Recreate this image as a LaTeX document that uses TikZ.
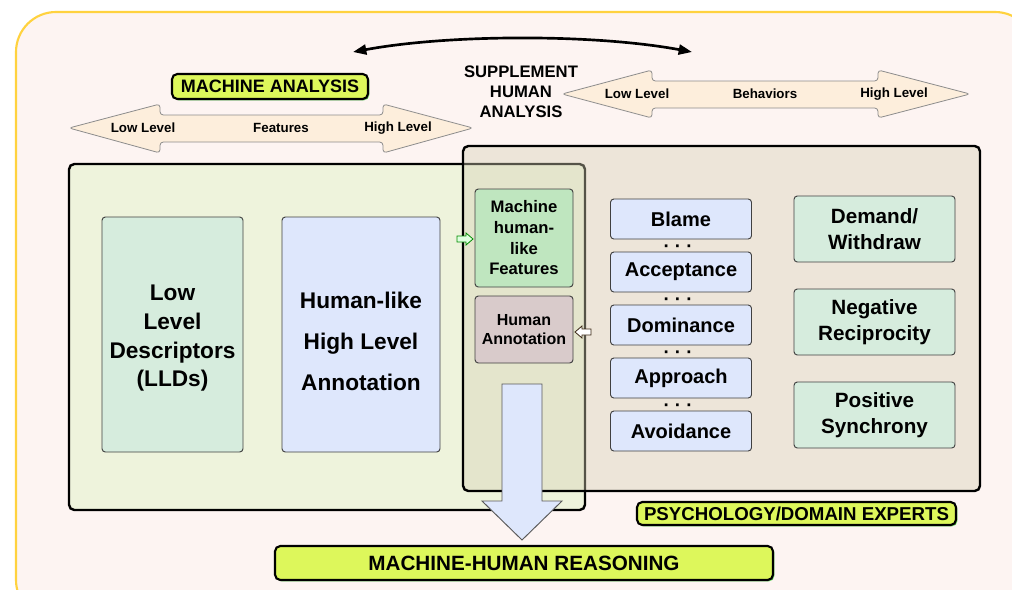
\documentclass[tikz,border=0pt]{standalone}
\usepackage{fontspec}
\setmainfont{Liberation Sans}
\usetikzlibrary{arrows.meta,shadows,calc}
\definecolor{bgpink}{HTML}{FDF4F2}
\definecolor{goldline}{HTML}{FFD23F}
\definecolor{peach}{HTML}{FDEEDC}
\definecolor{mabox}{HTML}{EEF3DC}
\definecolor{psybox}{RGB}{214,208,180}
\definecolor{mint}{HTML}{D6ECDD}
\definecolor{lblue}{HTML}{DEE7FC}
\definecolor{mgreen}{HTML}{BFE6BF}
\definecolor{mauve}{HTML}{D9CBCB}
\definecolor{lime}{HTML}{DDF75B}
\newcommand\fsb[2]{\fontsize{#1}{#2}\selectfont\bfseries}
\begin{document}
\begin{tikzpicture}[x=0.75pt,y=-0.75pt,
  every node/.style={inner sep=0pt, outer sep=0pt},
  sz/.style 2 args={minimum width={(#1)*0.75pt}, minimum height={(#2)*0.75pt}},
  card/.style={draw=black!75, line width=0.7pt, rounded corners=2.5pt, align=center},
  labelbox/.style={draw=black, line width=1.6pt, rounded corners=4pt, fill=lime, align=center,
    drop shadow={shadow xshift=1pt, shadow yshift=-1pt, fill=green!75!black, opacity=0.6}},
  bigbox/.style={draw=black, line width=1.8pt, rounded corners=4pt},
  dblarrow/.style={draw=black!45, line width=0.6pt, fill=peach, rounded corners=2.5pt},
  arrowtext/.style={font=\fsb{10}{12}},
  dots/.style={font=\fsb{14}{14}}
]
\useasboundingbox (0,0) rectangle (1012,589);
\clip (0,0) rectangle (1012,589);

% outer frame
\draw[goldline, line width=1.6pt, fill=bgpink, rounded corners=30pt] (16,12) rectangle (1035,620);

% top curved arrow
\coordinate (ca) at (353,52);
\coordinate (cb) at (692,52);
\draw[line width=2pt, {Triangle[length=10pt,width=7.5pt]}-{Triangle[length=10pt,width=7.5pt]}]
  (ca) .. controls (450,34) and (595,34) .. (cb);

% MACHINE ANALYSIS label
\node[labelbox, sz={196}{25}, font=\fsb{13.5}{15}] (malabel) at (270,86.5) {MACHINE ANALYSIS};

% SUPPLEMENT HUMAN ANALYSIS
\node[align=center, font=\fsb{12.5}{15}] (supp) at (521,92) {SUPPLEMENT\\HUMAN\\ANALYSIS};

% Features double arrow
\draw[dblarrow] (69,128) -- (160,104) -- (160,115) -- (383,115) -- (383,104) -- (473,128)
  -- (383,153) -- (383,142) -- (160,142) -- (160,153) -- cycle;
\node[arrowtext] (flow) at (143,128) {Low Level};
\node[arrowtext] (ffeat) at (281,128) {Features};
\node[arrowtext] (fhigh) at (398,128) {High Level};

% Behaviors double arrow
\draw[dblarrow] (562,94) -- (652,70) -- (652,81) -- (878,81) -- (878,70) -- (970,94)
  -- (878,118) -- (878,108) -- (652,108) -- (652,118) -- cycle;
\node[arrowtext] (blow) at (637,94) {Low Level};
\node[arrowtext] (bbeh) at (765,94) {Behaviors};
\node[arrowtext] (bhigh) at (894,94) {High Level};

% machine analysis big box
\node[bigbox, fill=mabox, sz={516}{346}] (mabig) at (327,337) {};
\node[card, fill=mint, sz={141}{235}] (lld) at (172.5,334.5) {};
\node[align=center, font=\fsb{17}{21.5}] (lldtext) at ($(lld.center)+(0,4)$)
  {Low\\Level\\Descriptors\\(LLDs)};
\node[card, fill=lblue, sz={158}{235}] (hlha) at (361,334.5) {};
\node[align=center, font=\fsb{17}{31}] (hlhatext) at ($(hlha.center)+(0,7)$)
  {Human-like\\High Level\\Annotation};

% psychology box (semi-transparent)
\node[bigbox, fill=psybox, fill opacity=0.4, sz={517}{345}] (psy) at (721.5,318.5) {};

% overlap boxes
\node[card, fill=mgreen, sz={98}{98}, font=\fsb{12.5}{15.5}] (mhf) at (524,238)
  {Machine\\human-\\like\\Features};
\node[card, fill=mauve, sz={98}{67}, font=\fsb{12}{14.6}] (ha) at (524,329.5)
  {Human\\Annotation};

% behaviours
\node[card, fill=lblue, sz={141}{40}, font=\fsb{15}{17}] (b1) at (681,219) {Blame};
\node[card, fill=lblue, sz={141}{40}, font=\fsb{15}{17}] (b2) at (681,272) {Acceptance};
\node[card, fill=lblue, sz={141}{40}, font=\fsb{15}{17}] (b3) at (681,325) {Dominance};
\node[card, fill=lblue, sz={141}{40}, font=\fsb{15}{17}] (b4) at (681,378) {Approach};
\node[card, fill=lblue, sz={141}{40}, font=\fsb{15}{17}] (b5) at (681,431) {Avoidance};
\node[dots] (d1) at ($(b1.south)!0.5!(b2.north)+(-3,3)$) {· · ·};
\node[dots] (d2) at ($(b2.south)!0.5!(b3.north)+(-3,3)$) {· · ·};
\node[dots] (d3) at ($(b3.south)!0.5!(b4.north)+(-3,3)$) {· · ·};
\node[dots] (d4) at ($(b4.south)!0.5!(b5.north)+(-3,3)$) {· · ·};

% right boxes
\node[card, fill=mint, sz={161}{66}, font=\fsb{15.5}{19.5}] (r1) at (874.5,229) {Demand/\\Withdraw};
\node[card, fill=mint, sz={161}{66}, font=\fsb{15.5}{19.5}] (r2) at (874.5,322) {Negative\\Reciprocity};
\node[card, fill=mint, sz={161}{66}, font=\fsb{15.5}{19.5}] (r3) at (874.5,415) {Positive\\Synchrony};

% labels at bottom
\node[labelbox, sz={319}{23}, font=\fsb{14}{16}] (psylabel) at (796.5,513.5) {PSYCHOLOGY/DOMAIN EXPERTS};
\node[labelbox, sz={498}{34}, font=\fsb{15.5}{17}] (mhr) at (524,563) {MACHINE-HUMAN REASONING};

% big blue arrow
\coordinate (bt) at ($(ha.south)+(-2,21)$);
\coordinate (bb) at ($(mhr.north)+(-2,-6)$);
\draw[draw=black!65, line width=0.7pt, fill=lblue]
  ($(bt)+(-20,0)$) -- ($(bt)+(20,0)$) -- ($(bb)+(20,-39)$) -- ($(bb)+(40,-39)$) -- (bb)
  -- ($(bb)+(-40,-39)$) -- ($(bb)+(-20,-39)$) -- cycle;

% small hollow arrows
\coordinate (g1) at ($(mhf.west)+(-2,1)$);
\draw[draw=green!55!black, line width=0.6pt, fill=green!12]
  (g1) -- ++(-7,-6) -- ++(0,3) -- ++(-9,0) -- ++(0,6) -- ++(9,0) -- ++(0,3) -- cycle;
\coordinate (h1) at ($(ha.east)+(2,2.5)$);
\draw[draw=black!70!brown, line width=0.6pt, fill=white]
  (h1) -- ++(7,-6) -- ++(0,3) -- ++(9,0) -- ++(0,6) -- ++(-9,0) -- ++(0,3) -- cycle;
\end{tikzpicture}
\end{document}
